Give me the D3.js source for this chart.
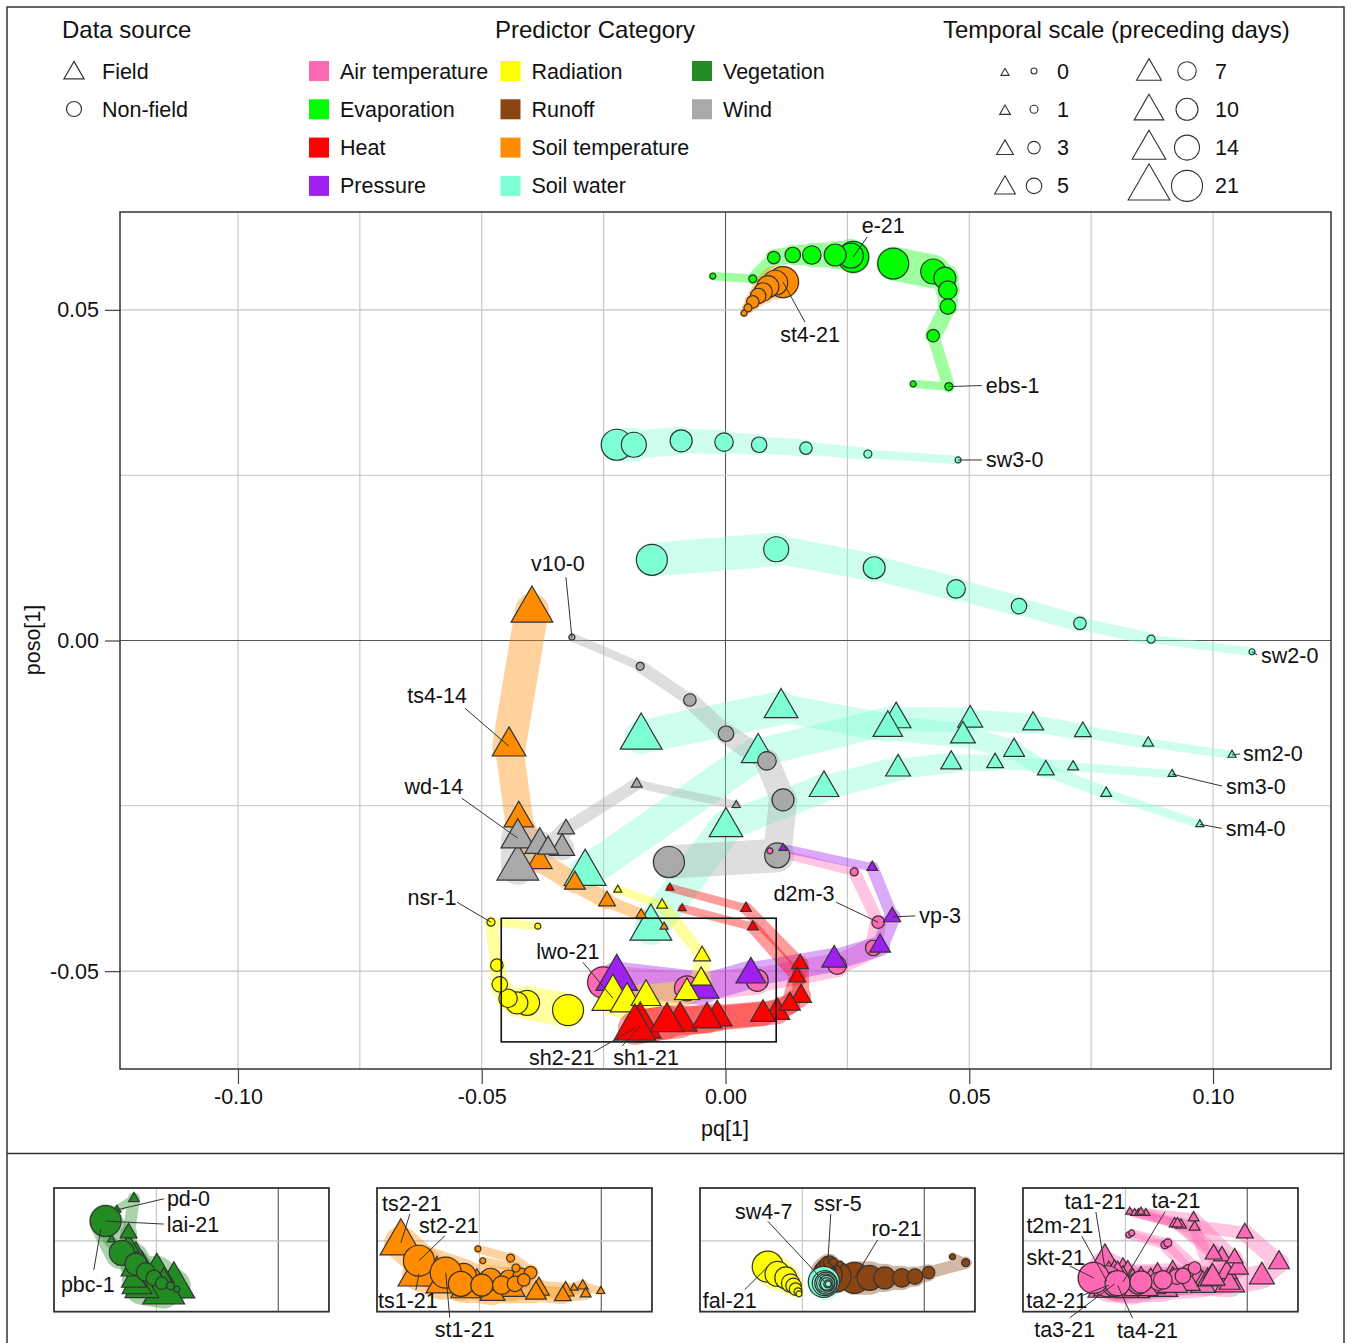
<!DOCTYPE html>
<html>
<head>
<meta charset="utf-8">
<script src="https://cdn.jsdelivr.net/npm/d3@7"></script>
<style>
  body { margin: 0; background: #fff; }
  svg { font-family: "Liberation Sans", Arial, sans-serif; }
</style>
</head>
<body>
<svg id="chart" width="1351" height="1343"></svg>
<script>
// ---------------- data ----------------
const days = [0, 1, 3, 5, 7, 10, 14, 21];
const sources = ["Field", "Non-field"];
const categories = ["Air temperature", "Evaporation", "Heat", "Pressure",
  "Radiation", "Runoff", "Soil temperature", "Soil water", "Vegetation", "Wind"];
const catColors = ["#FF69B4", "#00FF00", "#FF0000", "#A020F0",
  "#FFFF00", "#8B4513", "#FF8C00", "#7FFFD4", "#228B22", "#A9A9A9"];

// each series: [pq[1], poso[1]] for 0,1,3,5,7,10,14,21 preceding days
const e   = [[-0.0026,0.0551],[0.0056,0.0547],[0.0099,0.0579],[0.0138,0.0583],[0.0177,0.0583],[0.0225,0.0583],[0.0257,0.0582],[0.0262,0.0580]];
const ebs = [[0.0385,0.0388],[0.0458,0.0384],[0.0426,0.0461],[0.0456,0.0505],[0.0456,0.0530],[0.0450,0.0548],[0.0426,0.0558],[0.0344,0.0570]];
const st4 = [[0.0038,0.0495],[0.0046,0.0503],[0.0056,0.0512],[0.0067,0.0521],[0.0077,0.0527],[0.0087,0.0535],[0.0102,0.0541],[0.0118,0.0542]];
const sw3 = [[0.0477,0.0273],[0.0292,0.0282],[0.0165,0.0291],[0.0069,0.0296],[-0.0003,0.0300],[-0.0091,0.0302],[-0.0188,0.0296],[-0.0223,0.0296]];
const sw2 = [[0.1080,-0.0017],[0.0873,0.0002],[0.0727,0.0026],[0.0602,0.0052],[0.0473,0.0078],[0.0305,0.0110],[0.0104,0.0138],[-0.0151,0.0122]];
const sm2 = [[0.1039,-0.0173],[0.0867,-0.0155],[0.0733,-0.0138],[0.0631,-0.0126],[0.0502,-0.0120],[0.0350,-0.0119],[0.0067,-0.0170],[-0.0288,-0.0352]];
const sm3 = [[0.0916,-0.0202],[0.0713,-0.0191],[0.0553,-0.0185],[0.0463,-0.0185],[0.0354,-0.0194],[0.0202,-0.0223],[0.0001,-0.0282],[-0.0153,-0.0435]];
const sm4 = [[0.0973,-0.0278],[0.0781,-0.0231],[0.0657,-0.0196],[0.0592,-0.0166],[0.0487,-0.0144],[0.0333,-0.0132],[0.0114,-0.0102],[-0.0173,-0.0146]];
const v10 = [[-0.0315,0.0005],[-0.0175,-0.0039],[-0.0073,-0.0090],[0.0001,-0.0141],[0.0085,-0.0182],[0.0118,-0.0241],[0.0106,-0.0325],[-0.0116,-0.0335]];
const wd  = [[0.0022,-0.0249],[-0.0182,-0.0217],[-0.0327,-0.0285],[-0.0364,-0.0314],[-0.0335,-0.0314],[-0.0381,-0.0309],[-0.0426,-0.0299],[-0.0426,-0.0344]];
const ts4 = [[-0.0126,-0.0433],[-0.0173,-0.0415],[-0.0243,-0.0394],[-0.0309,-0.0367],[-0.0381,-0.0334],[-0.0424,-0.0269],[-0.0444,-0.0160],[-0.0397,0.0046]];
const nsr = [[-0.0385,-0.0432],[-0.0481,-0.0426],[-0.0469,-0.0491],[-0.0463,-0.0520],[-0.0446,-0.0541],[-0.0428,-0.0548],[-0.0407,-0.0548],[-0.0323,-0.0559]];
const lwo = [[-0.0221,-0.0377],[-0.0130,-0.0400],[-0.0048,-0.0477],[-0.0050,-0.0512],[-0.0079,-0.0532],[-0.0163,-0.0539],[-0.0202,-0.0547],[-0.0231,-0.0541]];
const d2m = [[0.0091,-0.0318],[0.0264,-0.0350],[0.0313,-0.0426],[0.0303,-0.0465],[0.0229,-0.0491],[0.0065,-0.0514],[-0.0079,-0.0526],[-0.0251,-0.0517]];
const vp  = [[0.0118,-0.0314],[0.0301,-0.0343],[0.0342,-0.0418],[0.0317,-0.0462],[0.0223,-0.0483],[0.0052,-0.0505],[-0.0048,-0.0526],[-0.0223,-0.0511]];
const sh1 = [[-0.0114,-0.0374],[0.0042,-0.0405],[0.0153,-0.0489],[0.0155,-0.0538],[0.0106,-0.0562],[-0.0017,-0.0570],[-0.0093,-0.0576],[-0.0175,-0.0583]];
const sh2 = [[-0.0089,-0.0405],[0.0056,-0.0433],[0.0147,-0.0509],[0.0132,-0.0550],[0.0077,-0.0565],[-0.0038,-0.0573],[-0.0120,-0.0577],[-0.0186,-0.0586]];

// inset series (zoomed region)
const lai = [[-0.0208,-0.0573],[-0.0221,-0.0568],[-0.0239,-0.0564],[-0.0255,-0.0556],[-0.0272,-0.0547],[-0.0292,-0.0535],[-0.0321,-0.0518],[-0.0354,-0.0470]];
const pd  = [[-0.0331,-0.0453],[-0.0296,-0.0436],[-0.0307,-0.0488],[-0.0307,-0.0508],[-0.0292,-0.0523],[-0.0280,-0.0541],[-0.0249,-0.0548],[-0.0214,-0.0568]];
const pbc = [[-0.0342,-0.0498],[-0.0364,-0.0482],[-0.0313,-0.0529],[-0.0301,-0.0544],[-0.0296,-0.0559],[-0.0290,-0.0567],[-0.0280,-0.0571],[-0.0235,-0.0577]];
const st2 = [[-0.0253,-0.0512],[-0.0186,-0.0526],[-0.0145,-0.0548],[-0.0165,-0.0553],[-0.0190,-0.0558],[-0.0227,-0.0558],[-0.0282,-0.0553],[-0.0374,-0.0530]];
const st1 = [[-0.0243,-0.0530],[-0.0175,-0.0541],[-0.0159,-0.0559],[-0.0177,-0.0565],[-0.0204,-0.0567],[-0.0245,-0.0567],[-0.0288,-0.0565],[-0.0319,-0.0548]];
const ts2 = [[-0.0001,-0.0576],[-0.0038,-0.0568],[-0.0073,-0.0576],[-0.0128,-0.0573],[-0.0182,-0.0573],[-0.0255,-0.0568],[-0.0337,-0.0553],[-0.0411,-0.0503]];
const ts1 = [[-0.0056,-0.0571],[-0.0032,-0.0580],[-0.0079,-0.0583],[-0.0134,-0.0579],[-0.0223,-0.0579],[-0.0278,-0.0573],[-0.0325,-0.0564],[-0.0374,-0.0550]];
const fal = [[-0.0257,-0.0580],[-0.0259,-0.0577],[-0.0264,-0.0573],[-0.0268,-0.0568],[-0.0274,-0.0564],[-0.0284,-0.0556],[-0.0301,-0.0550],[-0.0321,-0.0539]];
const sw4 = [[-0.0197,-0.0565],[-0.0198,-0.0565],[-0.0200,-0.0565],[-0.0200,-0.0564],[-0.0202,-0.0564],[-0.0202,-0.0564],[-0.0204,-0.0564],[-0.0206,-0.0562]];
const ssr = [[-0.0173,-0.0535],[-0.0186,-0.0532],[-0.0194,-0.0532],[-0.0198,-0.0535],[-0.0202,-0.0541],[-0.0204,-0.0547],[-0.0194,-0.0551],[-0.0182,-0.0554]];
const ro  = [[0.0058,-0.0524],[0.0085,-0.0533],[0.0009,-0.0548],[-0.0019,-0.0554],[-0.0046,-0.0556],[-0.0081,-0.0556],[-0.0112,-0.0556],[-0.0143,-0.0556]];
const skt = [[-0.0237,-0.0488],[-0.0163,-0.0503],[-0.0108,-0.0541],[-0.0132,-0.0553],[-0.0173,-0.0559],[-0.0218,-0.0562],[-0.0266,-0.0564],[-0.0315,-0.0556]];
const t2m = [[-0.0243,-0.0491],[-0.0169,-0.0506],[-0.0120,-0.0545],[-0.0145,-0.0554],[-0.0182,-0.0561],[-0.0223,-0.0564],[-0.0272,-0.0565],[-0.0288,-0.0561]];
const ta  = [[-0.0241,-0.0456],[-0.0149,-0.0474],[-0.0005,-0.0488],[0.0065,-0.0533],[0.0030,-0.0554],[-0.0036,-0.0564],[-0.0153,-0.0559],[-0.0255,-0.0562]];
const ta1 = [[-0.0231,-0.0458],[-0.0136,-0.0476],[-0.0052,-0.0523],[-0.0042,-0.0548],[-0.0102,-0.0556],[-0.0184,-0.0559],[-0.0245,-0.0559],[-0.0292,-0.0541]];
const ta2 = [[-0.0223,-0.0458],[-0.0143,-0.0474],[-0.0069,-0.0520],[-0.0036,-0.0564],[-0.0091,-0.0567],[-0.0173,-0.0571],[-0.0235,-0.0571],[-0.0284,-0.0567]];
const ta3 = [[-0.0208,-0.0458],[-0.0108,-0.0479],[-0.0073,-0.0550],[-0.0081,-0.0559],[-0.0122,-0.0564],[-0.0198,-0.0567],[-0.0255,-0.0567],[-0.0272,-0.0565]];
const ta4 = [[-0.0218,-0.0456],[-0.0110,-0.0465],[-0.0026,-0.0526],[-0.0019,-0.0541],[-0.0071,-0.0556],[-0.0153,-0.0565],[-0.0218,-0.0568],[-0.0266,-0.0567]];

// zoom window shown by the insets
const zoomX = [-0.0460, 0.0104];
const zoomY = [-0.0607, -0.0420];

// series tables built from the arrays above
const mainSeries = [
  {id: "sw3", cat: "Soil water", src: "Non-field", pts: sw3},
  {id: "sw2", cat: "Soil water", src: "Non-field", pts: sw2},
  {id: "sm2", cat: "Soil water", src: "Field", pts: sm2},
  {id: "sm3", cat: "Soil water", src: "Field", pts: sm3},
  {id: "sm4", cat: "Soil water", src: "Field", pts: sm4},
  {id: "e", cat: "Evaporation", src: "Non-field", pts: e},
  {id: "ebs", cat: "Evaporation", src: "Non-field", pts: ebs},
  {id: "st4", cat: "Soil temperature", src: "Non-field", pts: st4},
  {id: "ts4", cat: "Soil temperature", src: "Field", pts: ts4},
  {id: "wd", cat: "Wind", src: "Field", pts: wd},
  {id: "v10", cat: "Wind", src: "Non-field", pts: v10},
  {id: "nsr", cat: "Radiation", src: "Non-field", pts: nsr},
  {id: "d2m", cat: "Air temperature", src: "Non-field", pts: d2m},
  {id: "vp", cat: "Pressure", src: "Field", pts: vp},
  {id: "lwo", cat: "Radiation", src: "Field", pts: lwo},
  {id: "sh1", cat: "Heat", src: "Field", pts: sh1},
  {id: "sh2", cat: "Heat", src: "Field", pts: sh2}
];
const insetSeries = [
  [ {id: "pd", cat: "Vegetation", src: "Field", pts: pd},
    {id: "pbc", cat: "Vegetation", src: "Field", pts: pbc},
    {id: "lai", cat: "Vegetation", src: "Non-field", pts: lai} ],
  [ {id: "ts2", cat: "Soil temperature", src: "Field", pts: ts2},
    {id: "ts1", cat: "Soil temperature", src: "Field", pts: ts1},
    {id: "st2", cat: "Soil temperature", src: "Non-field", pts: st2},
    {id: "st1", cat: "Soil temperature", src: "Non-field", pts: st1} ],
  [ {id: "ro", cat: "Runoff", src: "Non-field", pts: ro},
    {id: "ssr", cat: "Runoff", src: "Non-field", pts: ssr},
    {id: "sw4", cat: "Soil water", src: "Non-field", pts: sw4},
    {id: "fal", cat: "Radiation", src: "Non-field", pts: fal} ],
  [ {id: "ta", cat: "Air temperature", src: "Field", pts: ta},
    {id: "ta1", cat: "Air temperature", src: "Field", pts: ta1},
    {id: "ta2", cat: "Air temperature", src: "Field", pts: ta2},
    {id: "ta3", cat: "Air temperature", src: "Field", pts: ta3},
    {id: "ta4", cat: "Air temperature", src: "Field", pts: ta4},
    {id: "t2m", cat: "Air temperature", src: "Non-field", pts: t2m},
    {id: "skt", cat: "Air temperature", src: "Non-field", pts: skt} ]
];

// labels: [series, day, text dx, text dy, anchor, leader dx, leader dy] (pixels from the point)
const mainLabels = [
  ["e", 21, 30, -31, "middle", 14, -20],
  ["st4", 21, 27, 52, "middle", 22, 40],
  ["ebs", 1, 37, -1, "start", 33, -1],
  ["sw3", 0, 28, 0, "start", 24, 0],
  ["sw2", 0, 9, 4, "start", 5, 3],
  ["sm2", 0, 11, -1, "start", 8, -1],
  ["sm3", 0, 54, 12, "start", 50, 12],
  ["sm4", 0, 26, 4, "start", 22, 4],
  ["v10", 0, -14, -74, "middle", -6, -60],
  ["ts4", 14, -72, -51, "middle", -44, -38],
  ["wd", 14, -84, -52, "middle", -56, -40],
  ["nsr", 1, -59, -25, "middle", -34, -20],
  ["lwo", 21, -45, -47, "middle", -30, -36],
  ["d2m", 3, -74, -29, "middle", -42, -20],
  ["vp", 3, 27, -1, "start", 23, -1],
  ["sh2", 21, -73, 29, "middle", -41, 24],
  ["sh1", 21, 6, 31, "middle", -18, 20]
];
const insetLabels = [
  [["pd", 0, 50, -11, "start", 47, -11], ["lai", 21, 61, 3, "start", 58, 3], ["pbc", 1, -13, 55, "middle", -7, 41]],
  [["ts2", 21, 11, -39, "middle", 9, -29], ["st2", 21, 30, -35, "middle", 26, -25],
   ["ts1", 21, -11, 27, "middle", -3, 16], ["st1", 21, 19, 57, "middle", 4, 45]],
  [["sw4", 7, -62, -72, "middle", -58, -62], ["ssr", 5, 10, -61, "middle", 3, -50],
   ["ro", 21, 42, -49, "middle", 23, -38], ["fal", 21, -38, 34, "middle", -23, 23]],
  [["ta1", 21, -10, -67, "middle", -9, -56], ["ta", 21, 53, -81, "middle", 42, -70],
   ["t2m", 21, -47, -56, "middle", -25, -45], ["skt", 21, -38, -20, "middle", -24, -12],
   ["ta2", 21, -52, 15, "middle", -26, 10], ["ta3", 21, -50, 46, "middle", -45, 34],
   ["ta4", 21, 30, 45, "middle", 15, 33]]
];

// ---------------- scales ----------------
const svg = d3.select("#chart");
const x = d3.scaleLinear().domain([-0.1242, 0.1242]).range([120, 1331]);
const y = d3.scaleLinear().domain([-0.0648, 0.0648]).range([1069, 212]);
const color = d3.scaleOrdinal().domain(categories).range(catColors);
const diam = d3.scaleOrdinal().domain(days).range([6, 8, 12.5, 15.5, 18.5, 22, 25, 31]);
const shape = d3.scaleOrdinal().domain(sources).range([d3.symbolTriangle, d3.symbolCircle]);
const sym = (src, dm) => d3.symbol().type(shape(src)).size(Math.PI * dm * dm / 4)();

const INK = "#333";
const FS = 21.5;     // text size in legend, labels, axes
const FS_TITLE = 24; // legend titles

// outer frame
svg.append("rect").attr("x", 7).attr("y", 7).attr("width", 1337).attr("height", 1350)
  .attr("fill", "none").attr("stroke", INK).attr("stroke-width", 1.5);
svg.append("line").attr("x1", 7).attr("x2", 1344).attr("y1", 1153.5).attr("y2", 1153.5)
  .attr("stroke", INK).attr("stroke-width", 1.5);

// ---------------- legend ----------------
const leg = svg.append("g").attr("font-size", FS).attr("fill", "#111");
leg.append("text").attr("x", 62).attr("y", 30).attr("dy", "0.35em").attr("font-size", FS_TITLE).text("Data source");
leg.append("text").attr("x", 495).attr("y", 30).attr("dy", "0.35em").attr("font-size", FS_TITLE).text("Predictor Category");
leg.append("text").attr("x", 943).attr("y", 30).attr("dy", "0.35em").attr("font-size", FS_TITLE).text("Temporal scale (preceding days)");

sources.forEach((s, i) => {
  const yy = 71 + i * 38;
  leg.append("path").attr("d", sym(s, 15)).attr("transform", `translate(74,${yy + (i === 0 ? 2 : 0)})`)
    .attr("fill", "none").attr("stroke", INK).attr("stroke-width", 1.2);
  leg.append("text").attr("x", 102).attr("y", yy).attr("dy", "0.35em").text(s);
});

categories.forEach((c, i) => {
  const col = Math.floor(i / 4), row = i % 4;
  const xx = 309 + col * 191.5, yy = 71 + row * 38.3;
  leg.append("rect").attr("x", xx).attr("y", yy - 10).attr("width", 20).attr("height", 20).attr("fill", color(c));
  leg.append("text").attr("x", xx + 31).attr("y", yy).attr("dy", "0.35em").text(c);
});

days.forEach((d, i) => {
  const col = Math.floor(i / 4), row = i % 4;
  const yy = 71 + row * 38.3;
  const tx = [1005, 1149][col], cx = [1034, 1187][col], lx = [1057, 1215][col];
  leg.append("path").attr("d", sym("Field", diam(d))).attr("transform", `translate(${tx},${yy + 2})`)
    .attr("fill", "none").attr("stroke", INK).attr("stroke-width", 1.1);
  leg.append("path").attr("d", sym("Non-field", diam(d))).attr("transform", `translate(${cx},${yy})`)
    .attr("fill", "none").attr("stroke", INK).attr("stroke-width", 1.1);
  leg.append("text").attr("x", lx).attr("y", yy).attr("dy", "0.35em").text(d);
});

// ---------------- shared drawing helpers ----------------
const xGrid = d3.range(-4, 5).map(i => i * 0.025);
const yGrid = d3.range(-2, 3).map(i => i * 0.025);

function drawGrid(g, xs, ys) {
  const [x0, x1] = xs.domain(), [y0, y1] = ys.domain();
  g.selectAll(null).data(xGrid.filter(v => v > Math.min(x0, x1) && v < Math.max(x0, x1))).join("line")
    .attr("x1", d => xs(d)).attr("x2", d => xs(d))
    .attr("y1", ys.range()[0]).attr("y2", ys.range()[1])
    .attr("stroke", d => Math.abs(d) < 1e-9 ? "#555" : "#c4c4c4").attr("stroke-width", 1.1);
  g.selectAll(null).data(yGrid.filter(v => v > Math.min(y0, y1) && v < Math.max(y0, y1))).join("line")
    .attr("y1", d => ys(d)).attr("y2", d => ys(d))
    .attr("x1", xs.range()[0]).attr("x2", xs.range()[1])
    .attr("stroke", d => Math.abs(d) < 1e-9 ? "#555" : "#c4c4c4").attr("stroke-width", 1.1);
}

function drawSeries(g, list, xs, ys) {
  const bands = g.append("g"), marks = g.append("g");
  list.forEach(s => {
    const pts = s.pts.map((p, i) => ({px: xs(p[0]), py: ys(p[1]), d: days[i]}));
    const bg = bands.append("g").attr("opacity", 0.38);
    bg.selectAll("line").data(d3.pairs(pts)).join("line")
      .attr("x1", p => p[0].px).attr("y1", p => p[0].py)
      .attr("x2", p => p[1].px).attr("y2", p => p[1].py)
      .attr("stroke", color(s.cat)).attr("stroke-linecap", "round")
      .attr("stroke-width", p => 1.2 * (diam(p[0].d) + diam(p[1].d)) / 2);
    marks.append("g").selectAll("path").data(pts.slice().reverse()).join("path")
      .attr("transform", p => `translate(${p.px},${p.py})`)
      .attr("d", p => sym(s.src, diam(p.d)))
      .attr("fill", color(s.cat)).attr("stroke", INK).attr("stroke-width", 1.2);
  });
}

function drawLabels(g, labels, list, xs, ys) {
  labels.forEach(([id, d, dx, dy, anchor, lx, ly]) => {
    const s = list.find(o => o.id === id);
    const p = s.pts[days.indexOf(d)];
    const px = xs(p[0]), py = ys(p[1]);
    g.append("line").attr("x1", px).attr("y1", py).attr("x2", px + lx).attr("y2", py + ly)
      .attr("stroke", INK).attr("stroke-width", 1);
    g.append("text").attr("x", px + dx).attr("y", py + dy).attr("dy", "0.35em")
      .attr("text-anchor", anchor).attr("font-size", FS).attr("fill", "#111").text(`${id}-${d}`);
  });
}

// ---------------- main panel ----------------
const main = svg.append("g");
main.append("clipPath").attr("id", "clip-main").append("rect")
  .attr("x", 120).attr("y", 212).attr("width", 1211).attr("height", 857);
drawGrid(main.append("g"), x, y);
drawSeries(main.append("g").attr("clip-path", "url(#clip-main)"), mainSeries, x, y);

main.append("rect")
  .attr("x", x(zoomX[0])).attr("y", y(zoomY[1]))
  .attr("width", x(zoomX[1]) - x(zoomX[0])).attr("height", y(zoomY[0]) - y(zoomY[1]))
  .attr("fill", "none").attr("stroke", "#111").attr("stroke-width", 1.6);

main.append("rect").attr("x", 120).attr("y", 212).attr("width", 1211).attr("height", 857)
  .attr("fill", "none").attr("stroke", INK).attr("stroke-width", 1.5);

drawLabels(main.append("g"), mainLabels, mainSeries, x, y);

const fmt = d => d.toFixed(2);
const xAxis = main.append("g").attr("transform", "translate(0,1069)")
  .call(d3.axisBottom(x).tickValues([-0.1, -0.05, 0, 0.05, 0.1]).tickFormat(fmt).tickSize(15).tickPadding(5));
const yAxis = main.append("g").attr("transform", "translate(120,0)")
  .call(d3.axisLeft(y).tickValues([-0.05, 0, 0.05]).tickFormat(fmt).tickSize(15).tickPadding(6));
[xAxis, yAxis].forEach(a => {
  a.select(".domain").remove();
  a.selectAll(".tick line").attr("stroke", "#444").attr("stroke-width", 1.2);
  a.selectAll(".tick text").attr("font-size", FS).attr("fill", "#111")
    .attr("font-family", "'Liberation Sans', Arial, sans-serif");
});
main.append("text").attr("x", 725).attr("y", 1128).attr("dy", "0.35em").attr("text-anchor", "middle")
  .attr("font-size", FS).attr("fill", "#111").text("pq[1]");
main.append("text").attr("transform", "translate(32,640) rotate(-90)").attr("dy", "0.35em")
  .attr("text-anchor", "middle").attr("font-size", FS).attr("fill", "#111").text("poso[1]");

// ---------------- insets ----------------
const insetW = x(zoomX[1]) - x(zoomX[0]);
const insetH = y(zoomY[0]) - y(zoomY[1]);
const xi = d3.scaleLinear().domain(zoomX).range([0, insetW]);
const yi = d3.scaleLinear().domain(zoomY).range([insetH, 0]);
const insetLeft = [54, 377, 700, 1023];

insetSeries.forEach((list, k) => {
  const g = svg.append("g").attr("transform", `translate(${insetLeft[k]},1188)`);
  g.append("clipPath").attr("id", `clip-in${k}`).append("rect")
    .attr("width", insetW).attr("height", insetH);
  const inner = g.append("g").attr("clip-path", `url(#clip-in${k})`);
  drawGrid(inner.append("g"), xi, yi);
  drawSeries(inner.append("g"), list, xi, yi);
  g.append("rect").attr("width", insetW).attr("height", insetH)
    .attr("fill", "none").attr("stroke", INK).attr("stroke-width", 1.8);
  drawLabels(g.append("g"), insetLabels[k], list, xi, yi);
});
</script>
</body>
</html>
